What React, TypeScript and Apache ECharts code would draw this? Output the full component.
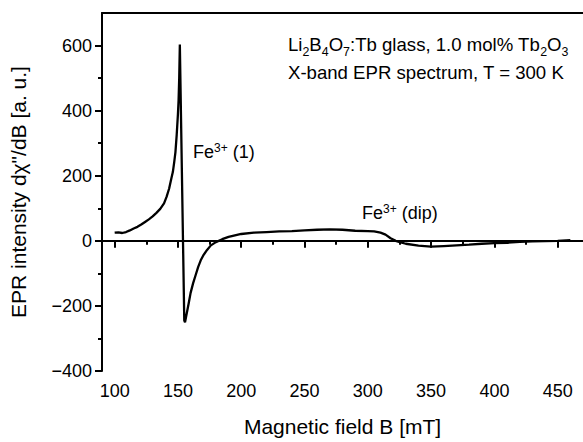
import React, { useEffect, useRef } from "react";
import * as echarts from "echarts";

const fieldB = [
  100, 103, 106, 109, 112, 115, 118, 121, 124, 127, 130, 133, 136, 139, 141, 143, 145, 146, 147, 148,
  149, 150, 150.5, 151, 151.5, 155, 155.6, 156.5, 157.5, 158.5, 160, 162, 164, 166, 168, 170, 173, 176,
  180, 185, 190, 195, 200, 210, 220, 230, 240, 250, 260, 270, 280, 290, 300, 305, 310, 314, 318, 322,
  326, 330, 340, 350, 360, 370, 380, 390, 400, 410, 420, 430, 440, 450, 460,
];
const intensity = [
  25, 26, 24, 27, 32, 38, 43, 50, 58, 66, 75, 86, 98, 115, 135, 160, 195, 212, 240, 272,
  325, 390, 432, 500, 603, -245, -250, -232, -212, -192, -160, -130, -105, -80, -60, -45, -28, -14,
  -4, 5, 12, 17, 21, 25, 27, 29, 30, 32, 34, 35, 34, 31, 30, 29, 25, 19, 8, 0,
  -5, -9, -15, -18, -16, -14, -12, -9, -7, -6, -3, -2, -1, 0, 2,
];
const xMajorTicks = [100, 150, 200, 250, 300, 350, 400, 450];
const xMinorTicks = [125, 175, 225, 275, 325, 375, 425];
const yMajorTicks = [-400, -200, 0, 200, 400, 600];
const yMinorTicks = [-300, -100, 100, 300, 500];

const FONT = "'Liberation Sans', Arial, sans-serif";
const fmt = (v: number) => (v < 0 ? "\u2212" + Math.abs(v) : String(v));

export default function App() {
  const ref = useRef<HTMLDivElement>(null);
  useEffect(() => {
    document.body.style.margin = "0";
    const chart = echarts.init(ref.current!, undefined, { renderer: "svg" });
    const axisLine = { show: true, lineStyle: { color: "#000", width: 2 } };
    const txt = { fontFamily: FONT, fill: "#000", color: "#000" };
    const rich = {
      a: { ...txt, fontSize: 18, lineHeight: 20 },
      b: { ...txt, fontSize: 12, lineHeight: 12, verticalAlign: "bottom", padding: [0, 0, -3, 0] },
      s: { ...txt, fontSize: 12, lineHeight: 12, verticalAlign: "top" },
    };
    const richL = {
      a: { ...txt, fontSize: 18.6, lineHeight: 20 },
      b: { ...txt, fontSize: 12.4, lineHeight: 12, verticalAlign: "bottom", padding: [0, 0, -3, 0] },
    };
    const data = fieldB.map((b, i) => [b, intensity[i]]);
    chart.setOption({
      animation: false,
      grid: { left: 102, top: 13, bottom: 68, right: -5, containLabel: false },
      xAxis: [
        {
          type: "value", position: "bottom", min: 90, max: 470,
          axisLine,
          splitLine: { show: false },
          axisTick: { show: true, customValues: xMajorTicks, length: 7, lineStyle: { color: "#000", width: 2 } },
          axisLabel: { customValues: xMajorTicks, fontFamily: FONT, fontSize: 18, color: "#000", margin: 11 },
          name: "Magnetic field B [mT]", nameLocation: "middle", nameGap: 45,
          nameTextStyle: { fontFamily: FONT, fontSize: 21, color: "#000" },
        },
        {
          type: "value", position: "bottom", min: 90, max: 470,
          axisLine: { show: false },
          splitLine: { show: false },
          axisTick: { show: true, customValues: xMinorTicks, length: 4, lineStyle: { color: "#000", width: 2 } },
          axisLabel: { show: false },
        },
        {
          type: "value", position: "top", min: 90, max: 470,
          axisLine,
          splitLine: { show: false },
          axisTick: { show: false },
          axisLabel: { show: false },
        },
      ],
      yAxis: [
        {
          type: "value", position: "left", min: -400, max: 700,
          axisLine,
          splitLine: { show: false },
          axisTick: { show: true, customValues: yMajorTicks, length: 7, lineStyle: { color: "#000", width: 2 } },
          axisLabel: { customValues: yMajorTicks, formatter: fmt, fontFamily: FONT, fontSize: 18, color: "#000", margin: 10 },
          name: 'EPR intensity d\u03C7"/dB [a. u.]', nameLocation: "middle", nameGap: 73,
          nameTextStyle: { fontFamily: FONT, fontSize: 21, color: "#000" },
        },
        {
          type: "value", position: "left", min: -400, max: 700,
          axisLine: { show: false },
          splitLine: { show: false },
          axisTick: { show: true, customValues: yMinorTicks, length: 4, lineStyle: { color: "#000", width: 2 } },
          axisLabel: { show: false },
        },
      ],
      series: [
        {
          type: "line", xAxisIndex: 0, yAxisIndex: 0, data,
          showSymbol: false, symbol: "none",
          lineStyle: { color: "#000", width: 2.3 },
          z: 5,
        },
      ],
      graphic: [
        {
          type: "text", left: 288, top: 35,
          style: {
            text: "{a|Li}{b|2}{a|B}{b|4}{a|O}{b|7}{a|:Tb glass, 1.0 mol% Tb}{b|2}{a|O}{b|3}",
            rich: richL,
          },
        },
        {
          type: "text", left: 288, top: 63,
          style: { text: "{a|X-band EPR spectrum, T = 300 K}", rich: richL },
        },
        {
          type: "text", left: 193, top: 142,
          style: { text: "{a|Fe}{s|3+}{a| (1)}", rich },
        },
        {
          type: "text", left: 362, top: 203,
          style: { text: "{a|Fe}{s|3+}{a| (dip)}", rich },
        },
      ],
    });
    return () => chart.dispose();
  }, []);
  return <div ref={ref} style={{ width: 583, height: 442 }} />;
}
